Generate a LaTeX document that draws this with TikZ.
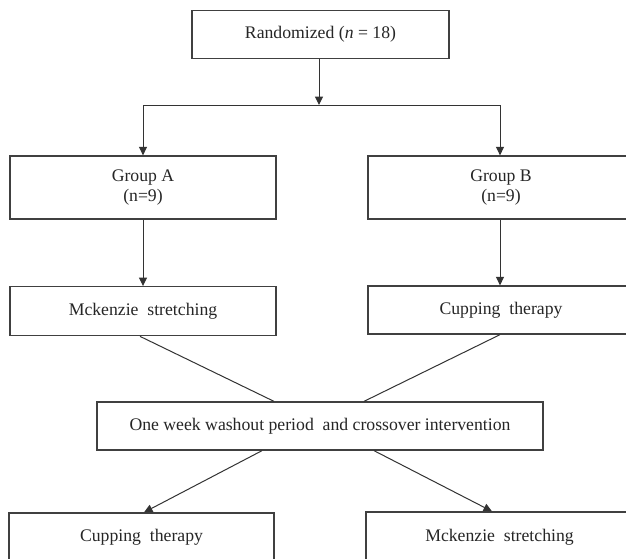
\documentclass[tikz,border=0pt]{standalone}
\usepackage{fontspec}
\setmainfont{Liberation Serif}
\usetikzlibrary{arrows.meta}
\begin{document}
\begin{tikzpicture}[x=1pt,y=-1pt,
  box/.style={draw=black!75, line width=1.3pt, fill=white, inner sep=0pt, align=center,
    text=black!85, font=\fontsize{17.7}{20}\selectfont},
  conn/.style={draw=black!80, line width=1pt},
  arr/.style={conn, -{Triangle[width=8pt,length=8.5pt]}}]
\useasboundingbox (0,0) rectangle (626,558);
\fill[white] (0,0) rectangle (626,558);
\clip (0,0) rectangle (626,558);
\node[box, minimum width=257pt, minimum height=47.5pt] (rand) at (320.5,34.5) {Randomized (\textit{n} = 18)};
\node[box, minimum width=266pt, minimum height=63pt] (ga) at (143,187.5) {Group A\\(n=9)};
\node[box, minimum width=266pt, minimum height=63pt] (gb) at (501,187.5) {Group B\\(n=9)};
\node[box, minimum width=266pt, minimum height=49pt] (mck) at (143,311.2) {Mckenzie\ \ stretching};
\node[box, minimum width=266pt, minimum height=48pt] (cup) at (501,310) {Cupping\ \ therapy};
\node[box, minimum width=446pt, minimum height=48pt] (wash) at (320,426) {One week washout period\ \ and crossover intervention};
\node[box, minimum width=265pt, minimum height=49pt] (cupb) at (141.5,537.5) {Cupping\ \ therapy};
\node[box, minimum width=267pt, minimum height=50pt] (mckb) at (499.5,537) {Mckenzie\ \ stretching};
\coordinate (split) at (319,105);
\coordinate (sl) at (143,105);
\coordinate (sr) at (500,105);
\draw[arr] ([xshift=-1.5pt]rand.south) -- (split);
\draw[conn] (sl) -- (sr);
\draw[arr] (sl) -- (ga.north);
\draw[arr] (sr) -- ([xshift=-1pt]gb.north);
\draw[arr] (ga.south) -- (mck.north);
\draw[arr] ([xshift=-1pt]gb.south) -- ([xshift=-1pt]cup.north);
\draw[conn] ([xshift=-3pt]mck.south) -- ([xshift=-46pt]wash.north);
\draw[conn] ([xshift=-1pt]cup.south) -- ([xshift=44pt]wash.north);
\draw[arr] ([xshift=-58pt]wash.south) -- ([xshift=2.5pt]cupb.north);
\draw[arr] ([xshift=54pt]wash.south) -- ([xshift=-7.5pt]mckb.north);
\end{tikzpicture}
\end{document}
